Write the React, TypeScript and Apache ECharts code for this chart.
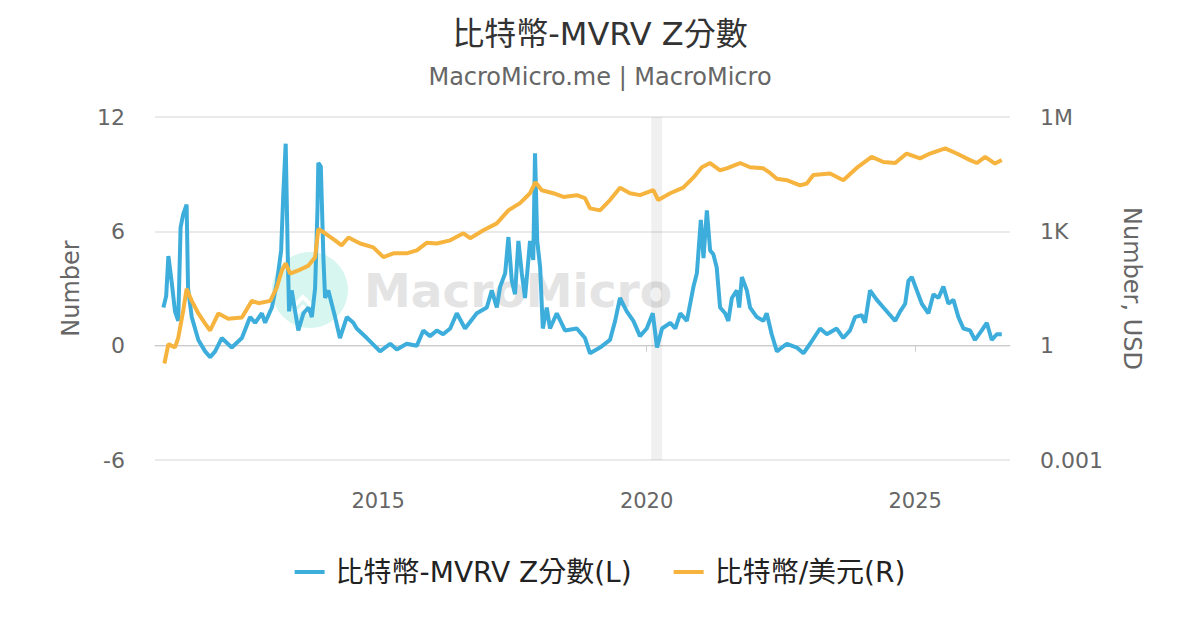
import { useEffect, useRef } from "react";
import * as echarts from "echarts";

// ----- data -----
const mvrvDates = [
  "2011-01-01", "2011-01-20", "2011-02-04", "2011-02-27", "2011-03-21", "2011-04-12", "2011-04-28", "2011-05-16",
  "2011-06-08", "2011-06-18", "2011-07-13", "2011-08-27", "2011-10-12", "2011-11-15", "2011-12-19", "2012-02-02",
  "2012-04-10", "2012-06-18", "2012-08-13", "2012-09-16", "2012-11-01", "2012-11-23", "2013-01-08", "2013-02-11",
  "2013-03-12", "2013-03-27", "2013-04-12", "2013-04-26", "2013-05-05", "2013-05-23", "2013-06-15", "2013-07-07",
  "2013-08-11", "2013-09-14", "2013-10-07", "2013-10-29", "2013-11-14", "2013-11-20", "2013-12-07", "2013-12-25",
  "2014-01-05", "2014-01-27", "2014-03-14", "2014-04-16", "2014-06-02", "2014-07-16", "2014-08-08", "2014-10-16",
  "2015-01-14", "2015-03-24", "2015-05-08", "2015-07-14", "2015-09-21", "2015-11-04", "2015-12-20", "2016-02-04",
  "2016-03-18", "2016-05-05", "2016-06-19", "2016-08-14", "2016-11-02", "2017-01-09", "2017-02-12", "2017-03-18",
  "2017-04-10", "2017-05-14", "2017-06-05", "2017-06-28", "2017-07-20", "2017-08-12", "2017-09-04", "2017-09-26",
  "2017-10-30", "2017-11-21", "2017-12-03", "2017-12-18", "2018-01-07", "2018-01-25", "2018-02-21", "2018-03-15",
  "2018-04-30", "2018-06-25", "2018-09-13", "2018-11-08", "2018-12-12", "2019-02-18", "2019-04-27", "2019-06-01",
  "2019-07-04", "2019-08-19", "2019-10-03", "2019-11-17", "2020-01-02", "2020-02-12", "2020-03-12", "2020-04-15",
  "2020-06-10", "2020-07-14", "2020-08-17", "2020-10-01", "2020-11-15", "2020-12-08", "2021-01-04", "2021-01-22",
  "2021-02-14", "2021-03-08", "2021-03-30", "2021-04-22", "2021-05-15", "2021-06-18", "2021-07-10", "2021-08-03",
  "2021-09-06", "2021-09-22", "2021-10-10", "2021-11-13", "2021-12-05", "2022-01-20", "2022-03-05", "2022-03-28",
  "2022-05-01", "2022-06-05", "2022-08-12", "2022-10-19", "2022-12-03", "2023-01-17", "2023-03-26", "2023-05-11",
  "2023-07-17", "2023-08-31", "2023-10-16", "2023-11-19", "2024-01-03", "2024-01-26", "2024-02-29", "2024-04-15",
  "2024-05-30", "2024-07-03", "2024-08-18", "2024-09-21", "2024-10-25", "2024-11-16", "2024-12-09", "2025-01-12",
  "2025-02-15", "2025-04-01", "2025-05-05", "2025-06-08", "2025-07-12", "2025-08-15", "2025-09-18", "2025-10-22",
  "2025-11-25", "2026-01-09", "2026-02-12", "2026-03-30", "2026-05-03", "2026-06-06", "2026-07-10", "2026-08-13",
];
const mvrvValues = [
  2.0, 2.6, 4.7, 3.3, 1.8, 1.3, 6.2, 6.9,
  7.4, 3.0, 1.5, 0.3, -0.3, -0.6, -0.3, 0.4,
  -0.1, 0.4, 1.5, 1.2, 1.7, 1.2, 2.0, 3.3,
  5.0, 8.0, 10.6, 4.8, 1.8, 2.9, 1.8, 0.8,
  1.7, 2.0, 1.5, 3.0, 7.1, 9.6, 9.4, 4.5,
  2.5, 2.9, 1.5, 0.4, 1.5, 1.2, 0.9, 0.4,
  -0.3, 0.1, -0.2, 0.1, 0.0, 0.8, 0.5, 0.8,
  0.6, 0.9, 1.7, 0.9, 1.7, 2.0, 2.9, 2.0,
  3.1, 3.8, 5.7, 3.4, 2.7, 5.5, 3.8, 2.5,
  5.5, 4.5, 10.1, 5.5, 4.1, 0.9, 2.0, 0.9,
  1.7, 0.8, 0.9, 0.4, -0.4, -0.1, 0.3, 1.3,
  2.5, 1.8, 1.3, 0.5, 0.9, 1.7, -0.1, 0.9,
  1.2, 0.9, 1.7, 1.3, 3.1, 3.8, 6.6, 4.6,
  7.1, 5.0, 4.8, 4.1, 2.0, 1.7, 1.3, 2.5,
  2.9, 2.0, 3.6, 2.9, 2.0, 1.5, 1.3, 1.7,
  0.6, -0.3, 0.1, -0.1, -0.4, 0.1, 0.9, 0.6,
  0.9, 0.4, 0.8, 1.5, 1.6, 1.2, 2.9, 2.4,
  2.0, 1.7, 1.3, 1.8, 2.2, 3.4, 3.6, 2.9,
  2.2, 1.7, 2.7, 2.5, 3.1, 2.2, 2.4, 1.5,
  0.9, 0.8, 0.3, 0.8, 1.2, 0.3, 0.6, 0.6,
];

const priceDates = [
  "2011-01-08", "2011-02-04", "2011-03-21", "2011-04-12", "2011-05-16", "2011-06-08", "2011-07-13", "2011-08-27",
  "2011-10-12", "2011-11-15", "2012-01-10", "2012-03-17", "2012-06-18", "2012-08-25", "2012-10-09", "2012-12-28",
  "2013-02-11", "2013-03-17", "2013-04-12", "2013-05-12", "2013-07-07", "2013-09-14", "2013-10-29", "2013-11-20",
  "2014-01-05", "2014-03-14", "2014-04-27", "2014-06-13", "2014-09-01", "2014-11-29", "2015-02-06", "2015-04-15",
  "2015-07-14", "2015-09-21", "2015-11-27", "2016-02-04", "2016-05-05", "2016-08-03", "2016-09-18", "2016-12-17",
  "2017-03-18", "2017-06-05", "2017-08-23", "2017-10-30", "2017-12-06", "2018-01-18", "2018-04-06", "2018-06-14",
  "2018-09-13", "2018-11-08", "2018-12-12", "2019-02-18", "2019-04-27", "2019-07-04", "2019-09-10", "2019-11-17",
  "2020-02-16", "2020-03-20", "2020-06-10", "2020-09-06", "2020-11-15", "2021-01-11", "2021-03-08", "2021-05-15",
  "2021-06-29", "2021-09-28", "2021-12-05", "2022-03-05", "2022-04-20", "2022-06-05", "2022-08-12", "2022-11-10",
  "2022-12-26", "2023-02-08", "2023-06-02", "2023-08-31", "2023-11-30", "2024-03-11", "2024-05-30", "2024-08-18",
  "2024-11-04", "2025-02-03", "2025-04-12", "2025-07-24", "2025-10-11", "2026-01-09", "2026-02-24", "2026-04-22",
  "2026-06-28", "2026-08-13",
];
const priceValues = [
  0.34, 1.1, 0.9, 1.6, 8.3, 31, 15, 7,
  3.8, 2.5, 7, 5.1, 5.5, 15, 13, 15,
  34, 94, 144, 78, 94, 126, 208, 1150,
  890, 580, 430, 690, 480, 380, 210, 265,
  265, 316, 500, 480, 580, 890, 660, 1070,
  1620, 3550, 5500, 10000, 19500, 12000, 10000, 8000,
  8900, 7400, 4000, 3550, 6600, 14000, 10000, 8900,
  12000, 6600, 10000, 14000, 26000, 48000, 62000, 40000,
  45000, 62000, 48000, 45000, 34000, 24000, 22000, 16000,
  18000, 30000, 33000, 22000, 46000, 90000, 66000, 62000,
  110000, 82000, 110000, 150000, 110000, 74000, 62000, 90000,
  60000, 74000,
];

const yearTicks = ["2015-01-01", "2020-01-01", "2025-01-01"];
const xRange = ["2010-11-05", "2026-10-08"];
const recessionBand = ["2020-02-01", "2020-04-16"];
const rightTickNames: Record<string, string> = { "-3": "0.001", "0": "1", "3": "1K", "6": "1M" };

const FONT = '"DejaVu Sans", "Noto Sans CJK TC", sans-serif';
const BLUE = "#3daedb";
const ORANGE = "#f6b43e";

const ts = (d: string) => Date.UTC(+d.slice(0, 4), +d.slice(5, 7) - 1, +d.slice(8, 10));

export default function App() {
  const containerRef = useRef<HTMLDivElement | null>(null);

  useEffect(() => {
    if (!containerRef.current) return;
    document.body.style.margin = "0";

    const chart = echarts.init(containerRef.current, undefined, { renderer: "svg" });

    const mvrvData = mvrvDates.map((d, i) => [ts(d), mvrvValues[i]]);
    const priceData = priceDates.map((d, i) => [ts(d), priceValues[i]]);
    const yearTickValues = yearTicks.map(ts);

    const option: echarts.EChartsOption = {
      animation: false,
      backgroundColor: "#fff",
      textStyle: { fontFamily: FONT },
      title: {
        text: "比特幣-MVRV Z分數",
        subtext: "MacroMicro.me | MacroMicro",
        left: "center",
        top: 13,
        itemGap: 15,
        textStyle: { fontSize: 32, fontWeight: "normal", color: "#333", fontFamily: FONT },
        subtextStyle: { fontSize: 24, color: "#666", fontFamily: FONT },
      },
      legend: {
        top: 553,
        left: "center",
        itemGap: 42,
        itemWidth: 30,
        itemHeight: 4,
        icon: "rect",
        textStyle: { fontSize: 28, color: "#222", fontFamily: FONT, padding: [0, 0, 0, 6] },
        data: ["比特幣-MVRV Z分數(L)", "比特幣/美元(R)"],
      },
      grid: { left: 155, right: 190, top: 117, bottom: 170, containLabel: false },
      graphic: [
        {
          type: "group",
          z: 0,
          silent: true,
          children: [
            { type: "circle", shape: { cx: 310, cy: 290, r: 38 }, style: { fill: "#d7f6ef" } },
            {
              type: "polyline",
              shape: { points: [[294, 306], [303, 297], [312, 306]] },
              style: { stroke: "#fff", lineWidth: 4, fill: "none" },
            },
            {
              type: "polyline",
              shape: { points: [[294, 316], [303, 307], [312, 316]] },
              style: { stroke: "#fff", lineWidth: 4, fill: "none" },
            },
            {
              type: "text",
              x: 364,
              y: 290,
              style: {
                text: "MacroMicro",
                fontSize: 47,
                fontWeight: "bold",
                fontFamily: FONT,
                fill: "#e4e4e4",
                verticalAlign: "middle",
              },
            },
          ],
        },
      ],
      xAxis: {
        type: "value",
        min: ts(xRange[0]),
        max: ts(xRange[1]),
        axisLine: { lineStyle: { color: "#cccccc" } },
        axisTick: {
          show: true,
          length: 6,
          lineStyle: { color: "#cccccc" },
          customValues: yearTickValues,
        },
        axisLabel: {
          fontSize: 21,
          color: "#666",
          margin: 30,
          fontFamily: FONT,
          customValues: yearTickValues,
          formatter: (v: number) => String(new Date(v).getUTCFullYear()),
        },
        splitLine: { show: false },
      },
      yAxis: [
        {
          type: "value",
          min: -6,
          max: 12,
          interval: 6,
          name: "Number",
          nameLocation: "middle",
          nameGap: 72,
          nameTextStyle: { fontSize: 24, color: "#666", fontFamily: FONT },
          axisLine: { show: false },
          axisTick: { show: false },
          axisLabel: { fontSize: 22, color: "#666", margin: 30, fontFamily: FONT },
          splitLine: { lineStyle: { color: "#e3e3e3", width: 1.5 } },
        },
        {
          type: "log",
          logBase: 1000,
          min: 0.001,
          max: 1000000,
          name: "Number, USD",
          nameLocation: "middle",
          nameRotate: -90,
          nameGap: 110,
          nameTextStyle: { fontSize: 24, color: "#666", fontFamily: FONT },
          axisLine: { show: false },
          axisTick: { show: false },
          axisLabel: {
            fontSize: 22,
            color: "#666",
            margin: 30,
            fontFamily: FONT,
            formatter: (v: number) => rightTickNames[String(Math.round(Math.log10(v)))] ?? String(v),
          },
          splitLine: { show: false },
        },
      ],
      series: [
        {
          name: "比特幣-MVRV Z分數(L)",
          type: "line",
          yAxisIndex: 0,
          showSymbol: false,
          z: 3,
          lineStyle: { width: 4, color: BLUE },
          itemStyle: { color: BLUE },
          data: mvrvData,
          markArea: {
            silent: true,
            itemStyle: { color: "rgba(0,0,0,0.06)" },
            data: [[{ xAxis: ts(recessionBand[0]) }, { xAxis: ts(recessionBand[1]) }]],
          },
        },
        {
          name: "比特幣/美元(R)",
          type: "line",
          yAxisIndex: 1,
          showSymbol: false,
          z: 4,
          lineStyle: { width: 4, color: ORANGE },
          itemStyle: { color: ORANGE },
          data: priceData,
        },
      ],
    };

    chart.setOption(option);

    return () => {
      chart.dispose();
    };
  }, []);

  return <div ref={containerRef} style={{ width: 1200, height: 630 }} />;
}
